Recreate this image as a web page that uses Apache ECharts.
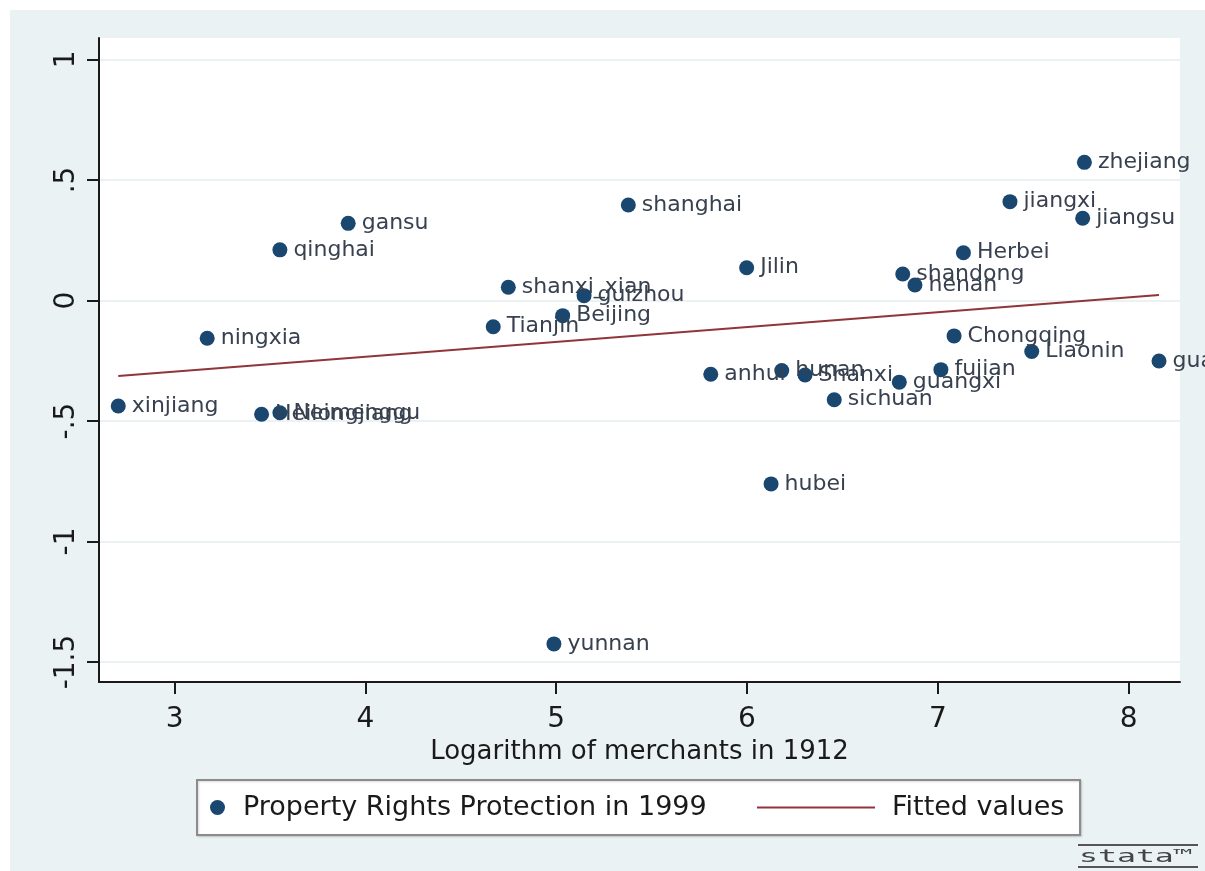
<!DOCTYPE html>
<html>
<head>
<meta charset="utf-8">
<title>Property rights vs merchants</title>
<script src="https://cdn.jsdelivr.net/npm/echarts@6/dist/echarts.min.js"></script>
<style>
  html, body { margin: 0; padding: 0; background: #fff; }
  #chart { width: 1205px; height: 871px; }
</style>
</head>
<body>
<div id="chart"></div>
<script>
// provinces
const provinces = ['zhejiang', 'jiangxi', 'jiangsu', 'Herbei', 'shandong', 'henan', 'shanghai', 'gansu',
  'qinghai', 'Jilin', 'shanxi_xian', 'guizhou', 'Beijing', 'Tianjin', 'ningxia', 'xinjiang',
  'Heilongjiang', 'Neimenggu', 'Chongqing', 'Liaonin', 'guangdong', 'fujian', 'guangxi', 'anhui',
  'hunan', 'Shanxi', 'sichuan', 'hubei', 'yunnan'];
// log of merchants in 1912
const logMerchants = [7.768, 7.378, 7.759, 7.134, 6.816, 6.880, 5.378, 3.910,
  3.552, 5.998, 4.749, 5.146, 5.034, 4.670, 3.171, 2.705,
  3.456, 3.552, 7.085, 7.492, 8.159, 7.016, 6.798, 5.810,
  6.182, 6.304, 6.457, 6.126, 4.988];
// property rights protection in 1999
const propertyRights = [0.573, 0.410, 0.341, 0.198, 0.110, 0.064, 0.396, 0.320,
  0.210, 0.136, 0.055, 0.020, -0.063, -0.109, -0.157, -0.438,
  -0.472, -0.466, -0.147, -0.212, -0.251, -0.287, -0.339, -0.306,
  -0.291, -0.309, -0.412, -0.761, -1.425];
// fitted line end points
const fittedX = [2.705, 8.159];
const fittedY = [-0.313, 0.023];

const xTicks = [3, 4, 5, 6, 7, 8];
const yTicks = [-1.5, -1, -0.5, 0, 0.5, 1];
const yTickLabels = ['-1.5', '-1', '-.5', '0', '.5', '1'];

const seriesNames = ['Property Rights Protection in 1999', 'Fitted values'];
const xTitle = 'Logarithm of merchants in 1912';

const FONT = 'DejaVu Sans';
const INK = '#1a1a1a';
const chart = echarts.init(document.getElementById('chart'));

const scatterData = provinces.map((n, i) => ({name: n, value: [logMerchants[i], propertyRights[i]]}));
const lineData = fittedX.map((x, i) => [x, fittedY[i]]);

const option = {
  backgroundColor: '#eaf2f3',
  animation: false,
  grid: {
    left: 99, right: 25, top: 38, bottom: 189,
    show: true, backgroundColor: '#fff', borderWidth: 0
  },
  xAxis: {
    type: 'value',
    min: 2.604, max: 8.269,
    name: xTitle,
    nameLocation: 'middle',
    nameGap: 51,
    nameTextStyle: {fontFamily: FONT, fontSize: 26, color: INK},
    axisLine: {onZero: false, lineStyle: {color: INK, width: 2}},
    axisTick: {show: true, length: 12, customValues: xTicks, lineStyle: {color: INK, width: 2}},
    axisLabel: {
      customValues: xTicks, margin: 24,
      fontFamily: FONT, fontSize: 28, color: INK
    },
    splitLine: {show: false}
  },
  yAxis: {
    type: 'value',
    min: -1.583, max: 1.089,
    axisLine: {show: true, onZero: false, lineStyle: {color: INK, width: 2}},
    axisTick: {show: true, length: 12, customValues: yTicks, lineStyle: {color: INK, width: 2}},
    axisLabel: {
      customValues: yTicks, rotate: 90, margin: 18,
      fontFamily: FONT, fontSize: 28, color: INK,
      formatter: v => yTickLabels[yTicks.indexOf(v)] ?? ''
    },
    splitLine: {show: true, lineStyle: {color: '#e6eef0', width: 1.5}}
  },
  legend: [
    {
      data: [{name: seriesNames[0], icon: 'circle'}],
      left: 210, top: 794, padding: 0,
      itemWidth: 15, itemHeight: 15,
      itemStyle: {opacity: 1},
      textStyle: {fontFamily: FONT, fontSize: 27, color: INK, padding: [0, 0, 0, 13]}
    },
    {
      data: [{name: seriesNames[1], icon: 'rect'}],
      left: 757, top: 794, padding: 0,
      itemWidth: 118, itemHeight: 2,
      textStyle: {fontFamily: FONT, fontSize: 27, color: INK, padding: [0, 0, 0, 12]}
    }
  ],
  graphic: [
    // white frame strip on top / left like the original export
    {type: 'rect', left: 0, top: 0, shape: {width: 1205, height: 10}, style: {fill: '#fff'}, silent: true},
    {type: 'rect', left: 0, top: 0, shape: {width: 10, height: 871}, style: {fill: '#fff'}, silent: true},
    // legend box
    {
      type: 'rect', z: 1,
      shape: {x: 197, y: 780, width: 883, height: 55},
      style: {fill: '#fff', stroke: '#8c8c8c', lineWidth: 2, shadowColor: 'rgba(0,0,0,0.15)', shadowOffsetX: 1, shadowOffsetY: 1, shadowBlur: 2},
      silent: true
    },
    // stata logo
    {type: 'line', shape: {x1: 1078, y1: 845, x2: 1198, y2: 845}, style: {stroke: '#555', lineWidth: 2}, silent: true},
    {type: 'line', shape: {x1: 1078, y1: 867, x2: 1198, y2: 867}, style: {stroke: '#555', lineWidth: 2}, silent: true},
    {
      type: 'text', x: 1079, y: 848, scaleX: 1.75,
      style: {text: 'stata™', fontFamily: 'DejaVu Sans Mono', fontSize: 18, fill: '#444', textVerticalAlign: 'top'},
      silent: true
    }
  ],
  series: [
    {
      name: seriesNames[0],
      type: 'scatter',
      symbol: 'circle',
      symbolSize: 15,
      itemStyle: {color: '#1a476f', opacity: 1},
      label: {
        show: true,
        position: 'right',
        distance: 6,
        formatter: '{b}',
        fontFamily: FONT,
        fontSize: 22,
        color: '#38414f',
        opacity: 1
      },
      data: scatterData,
      z: 3
    },
    {
      name: seriesNames[1],
      type: 'line',
      symbol: 'none',
      lineStyle: {color: '#90353b', width: 2},
      itemStyle: {color: '#90353b'},
      data: lineData,
      z: 4
    }
  ]
};

chart.setOption(option);
</script>
</body>
</html>
